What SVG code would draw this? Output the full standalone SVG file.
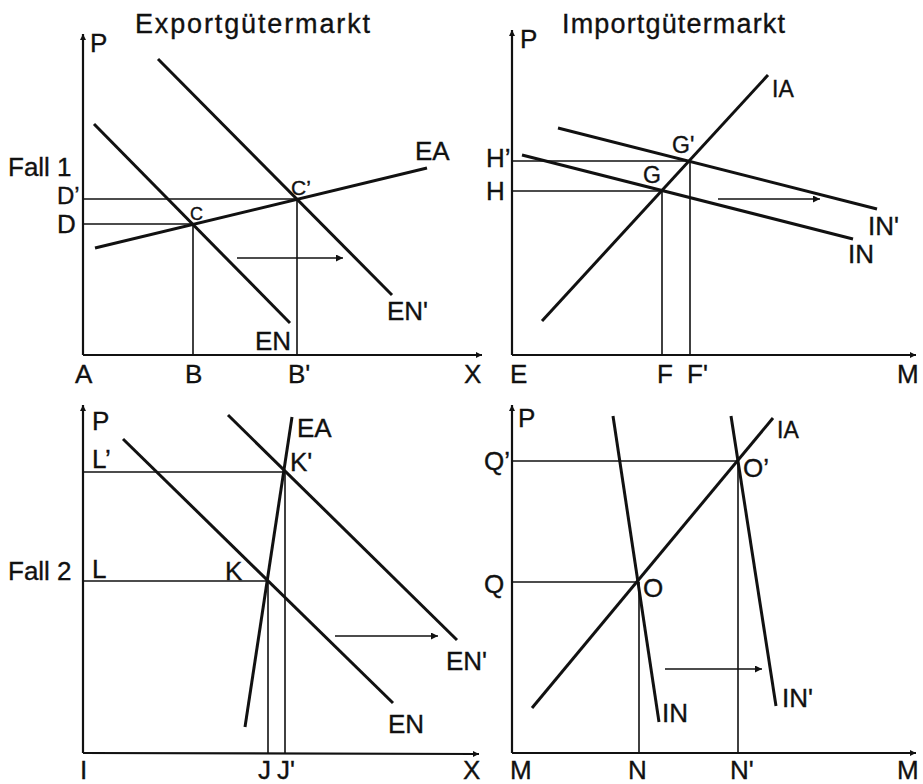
<svg xmlns="http://www.w3.org/2000/svg" width="923" height="784" viewBox="0 0 923 784">
<style>
text{font-family:"Liberation Sans",Arial,Helvetica,sans-serif;fill:#111;stroke:#111;stroke-width:0.35;font-size:26px}
.t{font-size:27px}
.sm{font-size:23px}
.axis{stroke:#111;stroke-width:2.2;fill:none}
.curve{stroke:#111;stroke-width:3;fill:none;stroke-linecap:butt}
.ref{stroke:#111;stroke-width:1.6;fill:none}
.shift{stroke:#111;stroke-width:1.6;fill:none}
</style>
<defs>
<marker id="ax" viewBox="0 0 10 10" refX="10" refY="5" markerWidth="9" markerHeight="6" markerUnits="userSpaceOnUse" orient="auto"><path d="M0,0 L10,5 L0,10 z" fill="#111"/></marker>
<marker id="sh" viewBox="0 0 10 10" refX="10" refY="5" markerWidth="12" markerHeight="7" markerUnits="userSpaceOnUse" orient="auto"><path d="M0,0 L10,5 L0,10 z" fill="#111"/></marker>
</defs>
<rect width="923" height="784" fill="#fff"/>

<g id="panel-export-1">
<text class="t" x="135" y="33" textLength="235" lengthAdjust="spacing">Exportgütermarkt</text>
<line class="axis" x1="83" y1="355" x2="83" y2="34" marker-end="url(#ax)"/>
<line class="axis" x1="83" y1="355" x2="482" y2="355" marker-end="url(#ax)"/>
<line class="ref" x1="83" y1="199" x2="297" y2="199"/>
<line class="ref" x1="83" y1="224" x2="193" y2="224"/>
<line class="ref" x1="193" y1="224" x2="193" y2="355"/>
<line class="ref" x1="297" y1="199" x2="297" y2="355"/>
<line class="curve" x1="95" y1="248" x2="427" y2="168"/>
<line class="curve" x1="94" y1="124" x2="290" y2="323"/>
<line class="curve" x1="158" y1="59" x2="392" y2="295"/>
<line class="shift" x1="237" y1="258" x2="343" y2="258" marker-end="url(#sh)"/>
<text x="90" y="52">P</text>
<text x="8" y="176">Fall 1</text>
<text x="57" y="204" style="font-size:24px">D’</text>
<text x="57" y="233">D</text>
<text x="190" y="220" style="font-size:18px">C</text>
<text x="291" y="195" style="font-size:21px">C’</text>
<text x="415" y="160">EA</text>
<text x="255" y="350">EN</text>
<text x="387" y="320">EN'</text>
<text x="75" y="383">A</text>
<text x="185" y="383">B</text>
<text x="288" y="383">B'</text>
<text x="464" y="383">X</text>
</g>

<g id="panel-import-1">
<text class="t" x="562" y="33" textLength="223" lengthAdjust="spacing">Importgütermarkt</text>
<line class="axis" x1="512" y1="355" x2="512" y2="30" marker-end="url(#ax)"/>
<line class="axis" x1="512" y1="355" x2="916" y2="355" marker-end="url(#ax)"/>
<line class="ref" x1="512" y1="161" x2="690" y2="161"/>
<line class="ref" x1="512" y1="191" x2="662" y2="191"/>
<line class="ref" x1="662" y1="191" x2="662" y2="355"/>
<line class="ref" x1="690" y1="161" x2="690" y2="355"/>
<line class="curve" x1="542" y1="321" x2="768" y2="75"/>
<line class="curve" x1="522" y1="155" x2="853" y2="239"/>
<line class="curve" x1="558" y1="128" x2="877" y2="209"/>
<line class="shift" x1="718" y1="199" x2="820" y2="199" marker-end="url(#sh)"/>
<text x="520" y="48">P</text>
<text class="sm" x="772" y="97">IA</text>
<text x="486" y="167">H’</text>
<text x="486" y="200">H</text>
<text class="sm" x="643" y="183">G</text>
<text class="sm" x="672" y="153">G'</text>
<text x="848" y="263">IN</text>
<text x="868" y="235">IN'</text>
<text x="510" y="383">E</text>
<text x="657" y="383">F</text>
<text x="687" y="383">F'</text>
<text x="897" y="383">M</text>
</g>

<g id="panel-export-2">
<line class="axis" x1="83" y1="753" x2="83" y2="405" marker-end="url(#ax)"/>
<line class="axis" x1="83" y1="753" x2="479" y2="754" marker-end="url(#ax)"/>
<line class="ref" x1="83" y1="472" x2="285" y2="472"/>
<line class="ref" x1="83" y1="581" x2="268" y2="581"/>
<line class="ref" x1="268" y1="581" x2="268" y2="753"/>
<line class="ref" x1="285" y1="472" x2="285" y2="753"/>
<line class="curve" x1="245" y1="727" x2="292" y2="417"/>
<line class="curve" x1="123" y1="439" x2="393" y2="703"/>
<line class="curve" x1="228" y1="415" x2="457" y2="640"/>
<line class="shift" x1="335" y1="636" x2="438" y2="636" marker-end="url(#sh)"/>
<text x="92" y="430">P</text>
<text x="92" y="468">L’</text>
<text x="92" y="578">L</text>
<text x="8" y="580">Fall 2</text>
<text x="225" y="580">K</text>
<text x="290" y="471">K'</text>
<text x="297" y="437">EA</text>
<text x="388" y="733">EN</text>
<text x="446" y="670">EN'</text>
<text x="80" y="779">I</text>
<text x="258" y="779">J</text>
<text x="277" y="779">J'</text>
<text x="463" y="779">X</text>
</g>

<g id="panel-import-2">
<line class="axis" x1="512" y1="753" x2="512" y2="405" marker-end="url(#ax)"/>
<line class="axis" x1="512" y1="753" x2="916" y2="753" marker-end="url(#ax)"/>
<line class="ref" x1="512" y1="461" x2="738" y2="461"/>
<line class="ref" x1="512" y1="582" x2="639" y2="582"/>
<line class="ref" x1="639" y1="582" x2="639" y2="753"/>
<line class="ref" x1="738" y1="461" x2="738" y2="753"/>
<line class="curve" x1="532" y1="708" x2="773" y2="418"/>
<line class="curve" x1="613" y1="416" x2="659" y2="722"/>
<line class="curve" x1="731" y1="416" x2="776" y2="706"/>
<line class="shift" x1="665" y1="669" x2="762" y2="669" marker-end="url(#sh)"/>
<text x="518" y="427">P</text>
<text x="484" y="470">Q’</text>
<text x="484" y="593">Q</text>
<text x="643" y="597">O</text>
<text x="743" y="477">O’</text>
<text class="sm" x="777" y="438">IA</text>
<text x="662" y="722">IN</text>
<text x="782" y="707">IN'</text>
<text x="510" y="779">M</text>
<text x="628" y="779">N</text>
<text x="730" y="779">N'</text>
<text x="897" y="779">M</text>
</g>
</svg>
